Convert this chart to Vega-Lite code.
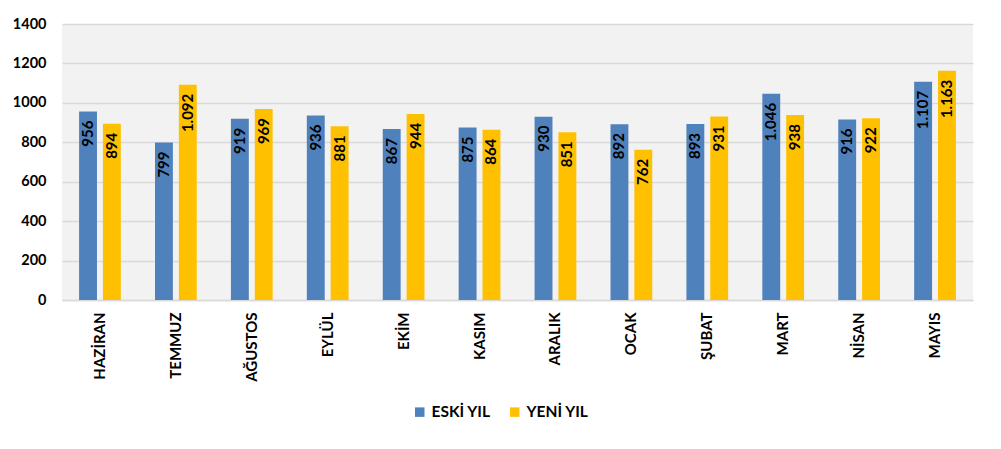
{
  "$schema": "https://vega.github.io/schema/vega-lite/v6.json",
  "width": 911,
  "height": 276,
  "autosize": {"type": "none"},
  "padding": {"left": 62, "top": 24, "right": 28, "bottom": 149},
  "background": "#FFFFFF",
  "config": {
    "font": "Lato",
    "view": {"fill": "#F2F2F2", "stroke": null},
    "locale": {"number": {"decimal": ",", "thousands": ".", "grouping": [3], "currency": ["", ""]}}
  },
  "data": {
    "values": [
      {"ay": "HAZİRAN", "seri": "ESKİ YIL", "deger": 956},
      {"ay": "HAZİRAN", "seri": "YENİ YIL", "deger": 894},
      {"ay": "TEMMUZ", "seri": "ESKİ YIL", "deger": 799},
      {"ay": "TEMMUZ", "seri": "YENİ YIL", "deger": 1092},
      {"ay": "AĞUSTOS", "seri": "ESKİ YIL", "deger": 919},
      {"ay": "AĞUSTOS", "seri": "YENİ YIL", "deger": 969},
      {"ay": "EYLÜL", "seri": "ESKİ YIL", "deger": 936},
      {"ay": "EYLÜL", "seri": "YENİ YIL", "deger": 881},
      {"ay": "EKİM", "seri": "ESKİ YIL", "deger": 867},
      {"ay": "EKİM", "seri": "YENİ YIL", "deger": 944},
      {"ay": "KASIM", "seri": "ESKİ YIL", "deger": 875},
      {"ay": "KASIM", "seri": "YENİ YIL", "deger": 864},
      {"ay": "ARALIK", "seri": "ESKİ YIL", "deger": 930},
      {"ay": "ARALIK", "seri": "YENİ YIL", "deger": 851},
      {"ay": "OCAK", "seri": "ESKİ YIL", "deger": 892},
      {"ay": "OCAK", "seri": "YENİ YIL", "deger": 762},
      {"ay": "ŞUBAT", "seri": "ESKİ YIL", "deger": 893},
      {"ay": "ŞUBAT", "seri": "YENİ YIL", "deger": 931},
      {"ay": "MART", "seri": "ESKİ YIL", "deger": 1046},
      {"ay": "MART", "seri": "YENİ YIL", "deger": 938},
      {"ay": "NİSAN", "seri": "ESKİ YIL", "deger": 916},
      {"ay": "NİSAN", "seri": "YENİ YIL", "deger": 922},
      {"ay": "MAYIS", "seri": "ESKİ YIL", "deger": 1107},
      {"ay": "MAYIS", "seri": "YENİ YIL", "deger": 1163}
    ]
  },
  "encoding": {
    "x": {
      "field": "ay",
      "type": "nominal",
      "sort": null,
      "title": null,
      "scale": {"paddingInner": 0.45, "paddingOuter": 0.225},
      "axis": {
        "labelAngle": -90,
        "labelFontSize": 15,
        "labelFontWeight": "bold",
        "labelColor": "#000000",
        "labelPadding": 12,
        "ticks": false,
        "domainColor": "#D9D9D9",
        "domainWidth": 1.5
      }
    },
    "xOffset": {"field": "seri", "type": "nominal", "scale": {"paddingInner": 0.25}},
    "y": {
      "field": "deger",
      "type": "quantitative",
      "title": null,
      "scale": {"domain": [0, 1400]},
      "axis": {
        "values": [0, 200, 400, 600, 800, 1000, 1200, 1400],
        "format": "d",
        "labelFontSize": 14.5,
        "labelFontWeight": "bold",
        "labelColor": "#000000",
        "labelPadding": 16,
        "ticks": false,
        "domain": false,
        "gridColor": "#D9D9D9",
        "gridWidth": 1.5
      }
    }
  },
  "layer": [
    {
      "mark": {"type": "bar"},
      "encoding": {
        "color": {
          "field": "seri",
          "type": "nominal",
          "scale": {"domain": ["ESKİ YIL", "YENİ YIL"], "range": ["#4F81BD", "#FFC000"]},
          "legend": {
            "title": null,
            "orient": "none",
            "legendX": 350,
            "legendY": 380,
            "direction": "horizontal",
            "symbolType": "square",
            "symbolSize": 90,
            "symbolStrokeWidth": 0,
            "labelFontSize": 15.5,
            "labelFontWeight": "bold",
            "labelColor": "#000000",
            "columnPadding": 16,
            "labelOffset": 4
          }
        }
      }
    },
    {
      "mark": {
        "type": "text",
        "angle": 270,
        "align": "right",
        "baseline": "middle",
        "dx": -9,
        "fontSize": 15,
        "fontWeight": "bold",
        "color": "#000000"
      },
      "encoding": {
        "text": {"field": "deger", "type": "quantitative", "format": ",d"}
      }
    }
  ]
}
